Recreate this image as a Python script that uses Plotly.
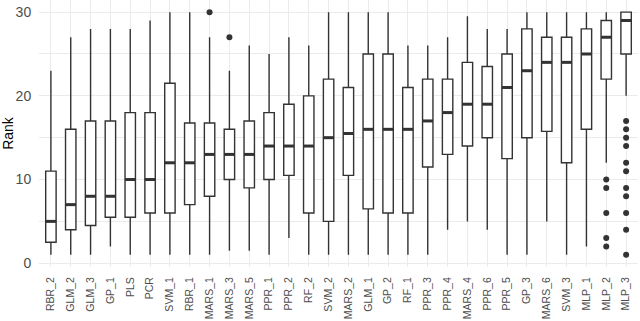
import plotly.graph_objects as go

# model names in plotted order
models = ["RBR_2", "GLM_2", "GLM_3", "GP_1", "PLS", "PCR", "SVM_1", "RBR_1",
          "MARS_1", "MARS_3", "MARS_5", "PPR_1", "PPR_2", "RF_2", "SVM_2",
          "MARS_2", "GLM_1", "GP_2", "RF_1", "PPR_3", "PPR_4", "MARS_4",
          "PPR_6", "PPR_5", "GP_3", "MARS_6", "SVM_3", "MLP_1", "MLP_2", "MLP_3"]

# box statistics (rank)
lower = [1, 1, 1, 2, 1, 1, 1, 1, 1, 1.5, 1.5, 1, 3, 1, 1,
         1, 1, 1, 1, 1, 4, 5, 4, 1, 1, 5, 1, 2, 12, 20]
q1 = [2.5, 4, 4.5, 5.5, 5.5, 6, 6, 7, 8, 10, 9, 10, 10.5, 6, 5,
      10.5, 6.5, 6, 6, 11.5, 13, 14, 15, 12.5, 15, 15.75, 12, 16, 22, 25]
median = [5, 7, 8, 8, 10, 10, 12, 12, 13, 13, 13, 14, 14, 14, 15,
          15.5, 16, 16, 16, 17, 18, 19, 19, 21, 23, 24, 24, 25, 27, 29]
q3 = [11, 16, 17, 17, 18, 18, 21.5, 16.75, 16.75, 16, 17, 18, 19, 20, 22,
      21, 25, 25, 21, 22, 22, 24, 23.5, 25, 28, 27, 27, 28, 29, 30]
upper = [23, 27, 28, 28, 28, 29, 30, 30, 27, 23, 26, 25, 27, 26, 30,
         30, 30, 30, 26, 26, 27, 29.5, 28, 28, 30, 30, 30, 30, 30, 30]

# outliers
out_model = ["MARS_1", "MARS_3"] + ["MLP_2"] * 5 + ["MLP_3"] * 11
out_rank = [30, 27, 10, 9, 6, 3, 2, 17, 16, 15, 14, 12, 11, 9, 8, 6, 4, 1]

ink = "#333333"
grid = "#EBEBEB"

fig = go.Figure()

fig.add_trace(go.Box(
    x=models, q1=q1, median=median, q3=q3,
    lowerfence=lower, upperfence=upper,
    boxpoints=False,
    fillcolor="white",
    line=dict(color=ink, width=1.4),
    whiskerwidth=0,
    hoverinfo="skip",
))

# thicker median bars, ggplot style
fig.add_trace(go.Scatter(
    x=models, y=median, mode="markers",
    marker=dict(symbol="line-ew", size=7.5, line=dict(color=ink, width=3)),
    hoverinfo="skip",
))

fig.add_trace(go.Scatter(
    x=out_model, y=out_rank, mode="markers",
    marker=dict(color=ink, size=6),
    hoverinfo="skip",
))

fig.update_layout(
    width=640, height=321,
    showlegend=False,
    boxgap=0.25,
    paper_bgcolor="white",
    plot_bgcolor="white",
    margin=dict(l=39, r=2, t=0, b=54),
    font=dict(family="Liberation Sans, Arial, sans-serif", color="#4D4D4D"),
)

fig.update_xaxes(
    type="category",
    categoryorder="array", categoryarray=models,
    range=[-0.6, len(models) - 0.4],
    showgrid=True, gridcolor=grid, gridwidth=1,
    zeroline=False, showline=False,
    tickangle=-90,
    tickfont=dict(size=10.5, color="#4D4D4D"),
    ticks="outside", ticklen=5, tickcolor="rgba(0,0,0,0)",
    automargin=False,
)

fig.update_yaxes(
    range=[-0.45, 31.45],
    tickvals=[0, 10, 20, 30],
    showgrid=True, gridcolor=grid, gridwidth=1,
    minor=dict(tickvals=[5, 15, 25], showgrid=True, gridcolor=grid, gridwidth=0.6),
    zeroline=False, showline=False,
    tickfont=dict(size=14, color="#4D4D4D"),
    ticks="outside", ticklen=4, tickcolor="rgba(0,0,0,0)",
    title=dict(text="Rank", font=dict(size=14, color="black"), standoff=6),
    automargin=False,
)

# page margin off so the 640x321 figure sits at the window origin
fig.write_html("out.html", config={"displayModeBar": False},
               post_script="document.body.style.margin='0';")
